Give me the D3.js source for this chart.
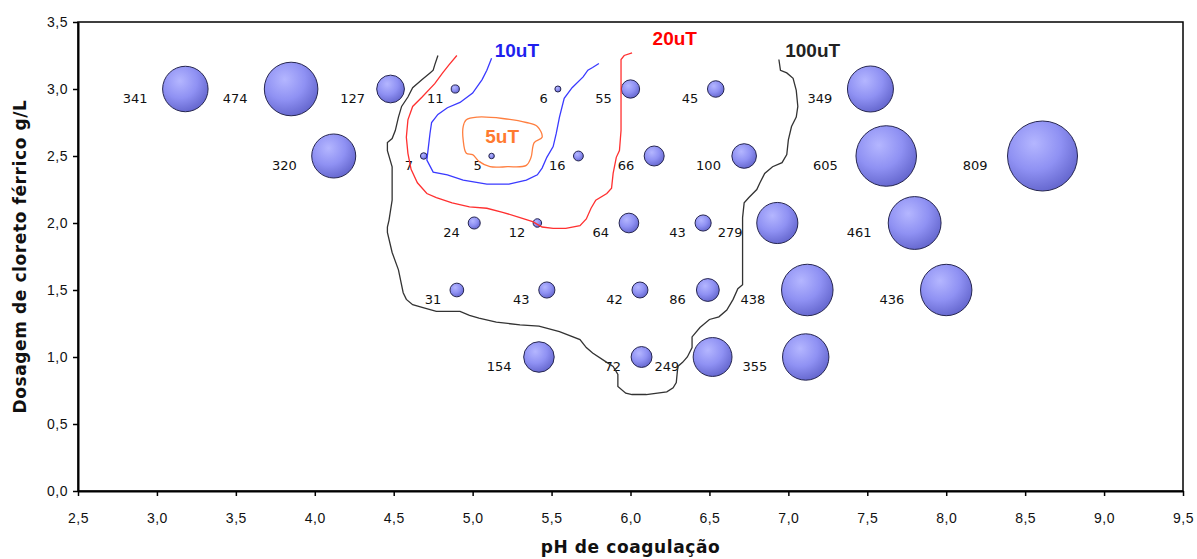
<!DOCTYPE html>
<html>
<head>
<meta charset="utf-8">
<script src="https://cdn.jsdelivr.net/npm/d3@7"></script>
<style>
  body { margin: 0; background: #fff; }
  svg { display: block; font-family: "DejaVu Sans", Verdana, sans-serif; }
  .axis path, .axis line { stroke: #000; }
  .axis text { font-size: 14px; letter-spacing: 0.5px; fill: #111; }
</style>
</head>
<body>
<svg id="chart" width="1197" height="559"></svg>
<script>
// bubble data: pH, dosagem (g/L), turbidez remanescente
const phValues   = [3.18, 3.85, 4.48, 4.89, 5.54, 6.00, 6.54, 7.52,
                    4.12, 4.69, 5.12, 5.67, 6.15, 6.72, 7.62, 8.61,
                    5.01, 5.41, 5.99, 6.46, 6.93, 7.80,
                    4.90, 5.47, 6.06, 6.49, 7.12, 8.00,
                    5.42, 6.07, 6.52, 7.11];
const doseValues = [3.0, 3.0, 3.0, 3.0, 3.0, 3.0, 3.0, 3.0,
                    2.5, 2.5, 2.5, 2.5, 2.5, 2.5, 2.5, 2.5,
                    2.0, 2.0, 2.0, 2.0, 2.0, 2.0,
                    1.5, 1.5, 1.5, 1.5, 1.5, 1.5,
                    1.0, 1.0, 1.0, 1.0];
const turbValues = [341, 474, 127, 11, 6, 55, 45, 349,
                    320, 7, 5, 16, 66, 100, 605, 809,
                    24, 12, 64, 43, 279, 461,
                    31, 43, 42, 86, 438, 436,
                    154, 72, 249, 355];

const xTicks = [2.5, 3.0, 3.5, 4.0, 4.5, 5.0, 5.5, 6.0, 6.5, 7.0, 7.5, 8.0, 8.5, 9.0, 9.5];
const xTickLabels = ["2,5", "3,0", "3,5", "4,0", "4,5", "5,0", "5,5", "6,0", "6,5", "7,0", "7,5", "8,0", "8,5", "9,0", "9,5"];
const yTicks = [0, 0.5, 1.0, 1.5, 2.0, 2.5, 3.0, 3.5];
const yTickLabels = ["0,0", "0,5", "1,0", "1,5", "2,0", "2,5", "3,0", "3,5"];

// isolinhas (pH, dosagem)
const iso100 = [[4.78,3.25],[4.76,3.18],[4.75,3.14],[4.73,3.12],[4.68,3.07],[4.62,3.01],[4.59,2.94],[4.55,2.87],
  [4.53,2.79],[4.51,2.69],[4.49,2.63],[4.46,2.60],[4.46,2.54],[4.49,2.42],[4.49,2.22],[4.49,2.17],[4.47,2.02],
  [4.46,1.97],[4.46,1.93],[4.49,1.78],[4.53,1.65],[4.56,1.48],[4.58,1.43],[4.62,1.39],[4.68,1.37],[4.77,1.34],
  [4.92,1.34],[4.98,1.31],[5.04,1.29],[5.15,1.26],[5.30,1.24],[5.42,1.23],[5.55,1.19],[5.68,1.13],[5.72,1.07],
  [5.76,1.03],[5.85,0.96],[5.89,0.93],[5.92,0.87],[5.92,0.78],[5.97,0.73],[6.01,0.72],[6.10,0.72],[6.23,0.74],
  [6.27,0.77],[6.29,0.81],[6.30,0.93],[6.33,0.96],[6.36,1.00],[6.39,1.07],[6.39,1.15],[6.44,1.22],[6.50,1.28],
  [6.56,1.30],[6.61,1.35],[6.65,1.43],[6.68,1.51],[6.71,1.54],[6.71,1.67],[6.71,1.93],[6.71,2.04],[6.72,2.15],
  [6.75,2.19],[6.80,2.25],[6.82,2.30],[6.85,2.37],[6.90,2.42],[6.96,2.45],[6.99,2.51],[7.00,2.62],[7.02,2.72],
  [7.05,2.79],[7.06,2.87],[7.05,2.99],[7.03,3.08],[6.99,3.12],[6.95,3.14],[6.94,3.22]];
const iso20 = [[4.90,3.25],[4.85,3.18],[4.81,3.12],[4.76,3.04],[4.68,2.94],[4.62,2.87],[4.59,2.77],[4.58,2.64],
  [4.59,2.52],[4.61,2.40],[4.65,2.30],[4.71,2.22],[4.77,2.19],[4.87,2.15],[4.98,2.12],[5.09,2.11],[5.19,2.08],
  [5.30,2.04],[5.38,2.01],[5.44,1.97],[5.51,1.96],[5.59,1.96],[5.68,1.98],[5.72,2.03],[5.75,2.11],[5.78,2.17],
  [5.85,2.22],[5.88,2.26],[5.89,2.37],[5.91,2.49],[5.93,2.54],[5.94,2.69],[5.94,2.94],[5.94,3.22],[5.96,3.25],
  [6.01,3.27]];
const iso10 = [[5.12,3.23],[5.09,3.14],[5.06,3.07],[5.00,2.97],[4.92,2.90],[4.84,2.86],[4.78,2.81],[4.74,2.75],
  [4.73,2.67],[4.72,2.57],[4.71,2.47],[4.75,2.38],[4.84,2.36],[4.94,2.32],[5.09,2.29],[5.23,2.29],[5.34,2.32],
  [5.41,2.36],[5.44,2.41],[5.47,2.49],[5.51,2.57],[5.53,2.67],[5.55,2.79],[5.58,2.93],[5.63,3.01],[5.70,3.09],
  [5.73,3.14],[5.76,3.16],[5.80,3.19]];
const iso5 = [[4.96,2.77],[5.03,2.79],[5.19,2.78],[5.34,2.75],[5.41,2.72],[5.44,2.64],[5.39,2.60],[5.37,2.49],
  [5.34,2.43],[5.22,2.42],[5.11,2.42],[5.04,2.46],[5.00,2.51],[4.96,2.52],[4.94,2.62],[4.94,2.72]];

const isoNames = ["100uT", "20uT", "10uT", "5uT"];

const svg = d3.select('#chart');
const width = 1197, height = 559;
const margin = { top: 22, right: 14, bottom: 68, left: 78 };

const x = d3.scaleLinear().domain([2.5, 9.5]).range([margin.left, width - margin.right]);
const y = d3.scaleLinear().domain([0, 3.5]).range([height - margin.bottom, margin.top]);
const r = d3.scaleSqrt().domain([0, d3.max(turbValues)]).range([0, 35]);

// gradient for the 3d bubbles
const grad = svg.append('defs').append('radialGradient')
  .attr('id', 'bub').attr('cx', '38%').attr('cy', '32%').attr('r', '70%');
grad.append('stop').attr('offset', '0%').attr('stop-color', '#b4b6ff');
grad.append('stop').attr('offset', '55%').attr('stop-color', '#8f91f3');
grad.append('stop').attr('offset', '100%').attr('stop-color', '#6668cf');

// plot frame
svg.append('rect')
  .attr('x', x(2.5)).attr('y', y(3.5))
  .attr('width', x(9.5) - x(2.5)).attr('height', y(0) - y(3.5))
  .attr('fill', 'none').attr('stroke', '#000').attr('stroke-width', 1.5);

// axes
svg.append('g').attr('class', 'axis')
  .attr('transform', `translate(0,${y(0)})`)
  .call(d3.axisBottom(x).tickValues(xTicks).tickSize(5).tickSizeOuter(0).tickPadding(17)
    .tickFormat((d, i) => xTickLabels[i]))
  .call(g => g.select('.domain').attr('stroke-width', 2));

svg.append('g').attr('class', 'axis')
  .attr('transform', `translate(${x(2.5)},0)`)
  .call(d3.axisLeft(y).tickValues(yTicks).tickSize(5).tickSizeOuter(0).tickPadding(5)
    .tickFormat((d, i) => yTickLabels[i]))
  .call(g => g.select('.domain').attr('stroke-width', 2));

svg.selectAll('.axis .tick line').attr('stroke-width', 1.5);

// axis titles
svg.append('text')
  .attr('x', (x(2.5) + x(9.5)) / 2).attr('y', 553)
  .attr('text-anchor', 'middle')
  .style('font-size', '17px').style('font-weight', 'bold').style('letter-spacing', '0.6px').style('fill', '#111')
  .text('pH de coagulação');

svg.append('text')
  .attr('transform', `translate(26,${(y(0) + y(3.5)) / 2}) rotate(-90)`)
  .attr('text-anchor', 'middle')
  .style('font-size', '17px').style('font-weight', 'bold').style('letter-spacing', '0.6px').style('fill', '#111')
  .text('Dosagem de cloreto férrico g/L');

// bubbles
const points = turbValues.map((v, i) => ({ ph: phValues[i], dose: doseValues[i], v }));
points.sort((a, b) => b.v - a.v);

svg.append('g').selectAll('circle')
  .data(points)
  .join('circle')
  .attr('cx', d => x(d.ph))
  .attr('cy', d => y(d.dose))
  .attr('r', d => r(d.v))
  .attr('fill', 'url(#bub)')
  .attr('stroke', '#262650')
  .attr('stroke-width', 1);

svg.append('g').selectAll('text')
  .data(points)
  .join('text')
  .attr('x', d => x(d.ph) - (1.4 * r(d.v) + 6))
  .attr('y', d => y(d.dose) + 14)
  .attr('text-anchor', 'end')
  .style('font-size', '13px').style('fill', '#111')
  .text(d => d.v);

// isolines
const line = d3.line().x(d => x(d[0])).y(d => y(d[1]));
const closed = d3.line().x(d => x(d[0])).y(d => y(d[1])).curve(d3.curveCatmullRomClosed.alpha(0.5));

const isoStyle = [
  { pts: iso100, color: '#333', path: line, at: [6.98, 3.24], tc: '#222' },
  { pts: iso20, color: '#ff3030', path: line, at: [6.14, 3.33], tc: '#ff0000' },
  { pts: iso10, color: '#3a3aff', path: line, at: [5.14, 3.24], tc: '#1f1fee' },
  { pts: iso5, color: '#ff7f40', path: closed, at: [5.08, 2.60], tc: '#ff7a30' }
];

isoStyle.forEach((s, i) => {
  svg.append('path')
    .attr('d', s.path(s.pts))
    .attr('fill', 'none')
    .attr('stroke', s.color)
    .attr('stroke-width', 1.3);
  svg.append('text')
    .attr('x', x(s.at[0])).attr('y', y(s.at[1]))
    .style('font-family', '"Liberation Sans", Arial, sans-serif')
    .style('font-size', '19px').style('font-weight', 'bold')
    .style('fill', s.tc)
    .text(isoNames[i]);
});
</script>
</body>
</html>
